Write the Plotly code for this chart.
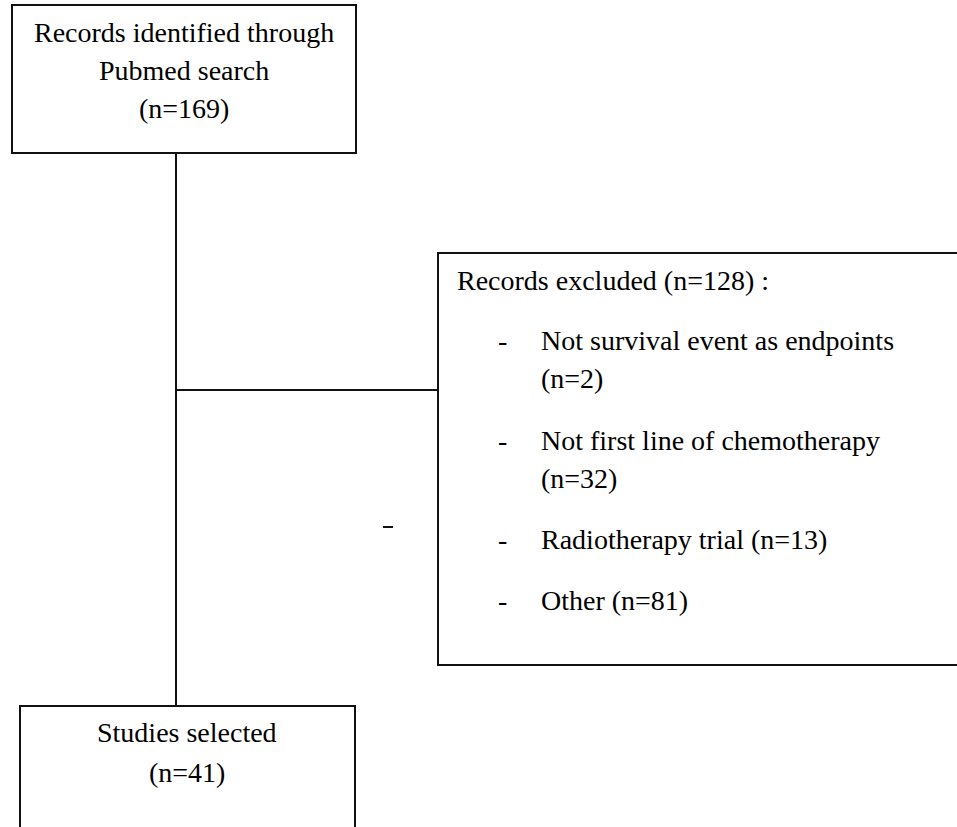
import plotly.graph_objects as go

# ---- data ----
total_identified = 169
excluded_total = 128
exclusion_reasons = ["Not survival event as endpoints", "Not first line of chemotherapy",
                     "Radiotherapy trial", "Other"]
exclusion_counts = [2, 32, 13, 81]
selected = 41

W, H = 957, 827
FONT = dict(family="Liberation Serif, Times New Roman, serif", size=28, color="#000000")
LINE = dict(color="#111111", width=2)

fig = go.Figure()
fig.add_trace(go.Scatter(x=[0, W], y=[0, H], mode="markers", marker=dict(opacity=0),
                         hoverinfo="skip", showlegend=False))

shapes = []
# boxes
shapes.append(dict(type="rect", x0=12, y0=5, x1=356, y1=153, line=LINE))
shapes.append(dict(type="rect", x0=438, y0=253, x1=962, y1=665, line=LINE))
shapes.append(dict(type="rect", x0=20, y0=706, x1=355, y1=835, line=LINE))
# connectors
shapes.append(dict(type="line", x0=176, y0=153, x1=176, y1=706, line=LINE))
shapes.append(dict(type="line", x0=176, y0=390, x1=438, y1=390, line=LINE))
# stray dash
shapes.append(dict(type="line", x0=383, y0=527, x1=393, y1=527, line=LINE))

ann = []
def t(x, y, s, anchor="center"):
    ann.append(dict(x=x, y=y, xref="x", yref="y", text=s, showarrow=False,
                    xanchor=anchor, yanchor="middle", font=FONT))

t(184, 32, "Records identified through")
t(184, 70, "Pubmed search")
t(184, 108, f"(n={total_identified})")

t(455, 280, f"Records excluded (n={excluded_total}) :", "left")
bullet_y = [[340, 378], [440, 478], [539], [600]]
for reason, n, ys in zip(exclusion_reasons, exclusion_counts, bullet_y):
    t(496, ys[0], "-", "left")
    if len(ys) == 2:
        t(539, ys[0], reason, "left")
        t(539, ys[1], f"(n={n})", "left")
    else:
        t(539, ys[0], f"{reason} (n={n})", "left")

t(187, 732, "Studies selected")
t(187, 772, f"(n={selected})")

fig.update_layout(width=W, height=H, margin=dict(l=0, r=0, t=0, b=0),
                  plot_bgcolor="white", paper_bgcolor="white",
                  shapes=shapes, annotations=ann, showlegend=False,
                  xaxis=dict(range=[0, W], visible=False, fixedrange=True),
                  yaxis=dict(range=[H, 0], visible=False, fixedrange=True))
fig.write_html("out.html", config={"displayModeBar": False},
               post_script="document.body.style.margin='0';document.body.style.overflow='hidden';")
